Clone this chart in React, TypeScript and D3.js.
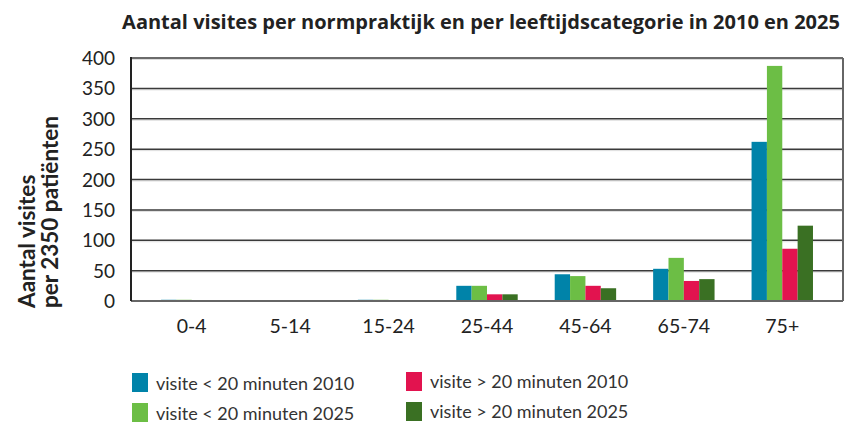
import React from "react";
import * as d3 from "d3";

const categories = ["0-4", "5-14", "15-24", "25-44", "45-64", "65-74", "75+"];
const seriesNames = [
  "visite < 20 minuten 2010",
  "visite < 20 minuten 2025",
  "visite > 20 minuten 2010",
  "visite > 20 minuten 2025",
];
const short2010 = [2, 1, 2, 25, 44, 53, 262];
const short2025 = [2, 1, 2, 25, 41, 71, 387];
const long2010 = [1, 1, 1, 11, 25, 33, 86];
const long2025 = [1, 1, 1, 11, 21, 36, 124];
const yTicks = [0, 50, 100, 150, 200, 250, 300, 350, 400];
const colors = ["#0083a9", "#6cbe45", "#e2134f", "#3a7023"];

const series = [short2010, short2025, long2010, long2025];

const W = 856, H = 424;
const margin = { top: 58, right: 13, bottom: 123, left: 131 };
const font = "Lato, 'Open Sans', sans-serif";
const titleFont = "'Open Sans', Lato, sans-serif";

export default function App() {
  const innerW = W - margin.left - margin.right;
  const innerH = H - margin.top - margin.bottom;

  const x = d3.scaleBand<string>().domain(categories).range([0, innerW]).paddingInner(0.376).paddingOuter(0.305);
  const xs = d3.scaleBand<number>().domain(d3.range(series.length)).range([0, x.bandwidth()]);
  const y = d3.scaleLinear().domain([0, 400]).range([innerH, 0]);

  return (
    <svg width={W} height={H} style={{ position: "absolute", left: 0, top: 0, background: "#fff" }}>
      <text x={481} y={29} textAnchor="middle" fontFamily={titleFont} fontWeight="bold" fontSize={20} fill="#222">
        Aantal visites per normpraktijk en per leeftijdscategorie in 2010 en 2025
      </text>
      <g transform={`translate(${margin.left},${margin.top})`}>
        {yTicks.map((t) => (
          <g key={t}>
            {t > 0 && (
              <>
                <line x1={0} x2={innerW} y1={y(t) + 1.5} y2={y(t) + 1.5} stroke="#ddd" strokeWidth={1} />
                <line x1={0} x2={innerW} y1={y(t)} y2={y(t)} stroke="#3a3a3a" strokeWidth={1.5} />
              </>
            )}
            <text x={-16} y={y(t) + 7} textAnchor="end" fontFamily={font} fontSize={19} fill="#222">
              {t}
            </text>
          </g>
        ))}
        {categories.map((c, i) => (
          <g key={c} transform={`translate(${x(c)},0)`}>
            {series.map((s, j) => (
              <rect key={j} x={xs(j)} y={y(s[i])} width={xs.bandwidth()} height={innerH - y(s[i])} fill={colors[j]} />
            ))}
            <text x={x.bandwidth() / 2} y={innerH + 32} textAnchor="middle" fontFamily={font} fontSize={19.5} fill="#222">
              {c}
            </text>
          </g>
        ))}
        <line x1={0} x2={innerW} y1={innerH} y2={innerH} stroke="#666" strokeWidth={2} />
        <line x1={0} x2={0} y1={-1} y2={innerH} stroke="#222" strokeWidth={2} />
        <line x1={innerW} x2={innerW} y1={0} y2={innerH} stroke="#666" strokeWidth={2} />
      </g>
      <g fontFamily={font} fontWeight="bold" fontSize={22.5} fill="#222">
        <text transform="translate(35,308) rotate(-90)">Aantal visites</text>
        <text transform="translate(58,308) rotate(-90)">per 2350 patiënten</text>
      </g>
      <g fontFamily={font} fontSize={18} fill="#333">
        {seriesNames.map((n, j) => {
          const col = j >= 2 ? 1 : 0;
          const row = j % 2;
          const lx = col ? 406 : 132;
          const ly = (col ? 372 : 373) + row * 30;
          return (
            <g key={n} transform={`translate(${lx},${ly})`}>
              <rect width={16} height={19} fill={colors[j]} />
              <text x={24} y={col ? 15.5 : 17}>{n}</text>
            </g>
          );
        })}
      </g>
    </svg>
  );
}
